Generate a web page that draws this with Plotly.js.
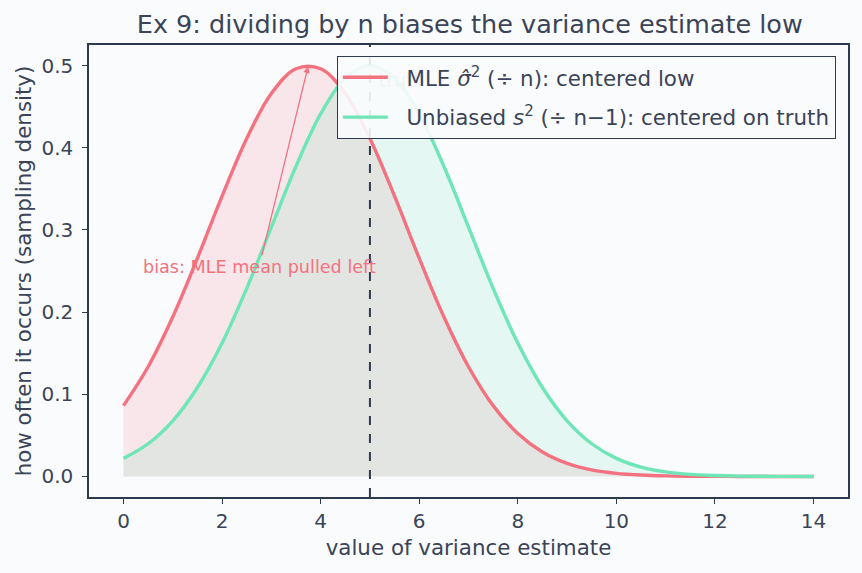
<!DOCTYPE html>
<html>
<head>
<meta charset="utf-8">
<script src="https://cdn.plot.ly/plotly-3.0.1.min.js"></script>
<style>html,body{margin:0;padding:0;background:#fafbfd;}#chart{width:862px;height:573px;}</style>
</head>
<body>
<div id="chart"></div>
<script>
const xValues = [0,0.5,1,1.5,2,2.5,3,3.5,4,4.5,5,5.5,6,6.5,7,7.5,8,8.5,9,9.5,10,10.5,11,11.5,12,12.5,13,13.5,14];
const mleDensity = [0.0862,0.1335,0.1943,0.2656,0.3410,0.4113,0.4660,0.4961,0.4961,0.4660,0.4113,0.3410,0.2656,0.1943,0.1335,0.0862,0.0523,0.0298,0.0160,0.0080,0.0038,0.0017,0.0007,0.0003,0.0001,0.0000,0.0000,0.0000,0.0000];
const unbiasedDensity = [0.0220,0.0398,0.0677,0.1082,0.1623,0.2289,0.3033,0.3774,0.4412,0.4846,0.5000,0.4846,0.4412,0.3774,0.3033,0.2289,0.1623,0.1082,0.0677,0.0398,0.0220,0.0114,0.0056,0.0025,0.0011,0.0004,0.0002,0.0001,0.0000];
const trueVariance = 5;
const mlePeak = [3.75, 0.5];
const biasLabelPos = [2.75, 0.255];
const seriesNames = ["\u00A0\u00A0MLE <i>σ̂</i><sup>2</sup> (÷ n): centered low", "\u00A0\u00A0Unbiased <i>s</i><sup>2</sup> (÷ n−1): centered on truth"];

const red = "#f47280", green = "#6ee6b7", ink = "#2e3a4e", txt = "#3b4457";

const traces = [
  {x: xValues, y: mleDensity, type: "scatter", mode: "lines", fill: "tozeroy",
   fillcolor: "rgba(244,114,128,0.15)", line: {color: "rgba(0,0,0,0)", width: 0, shape: "spline"}, showlegend: false, hoverinfo: "skip"},
  {x: xValues, y: unbiasedDensity, type: "scatter", mode: "lines", fill: "tozeroy",
   fillcolor: "rgba(110,230,183,0.15)", line: {color: "rgba(0,0,0,0)", width: 0, shape: "spline"}, showlegend: false, hoverinfo: "skip"},
  {x: [trueVariance + 0.18], y: [0.48], type: "scatter", mode: "text", text: ["truth"], textposition: "middle right",
   textfont: {family: "DejaVu Sans", size: 19, color: "#9aa0ab"}, showlegend: false, hoverinfo: "skip"},
  {x: xValues, y: mleDensity, type: "scatter", mode: "lines", legendgroup: "a",
   line: {color: red, width: 3.4, shape: "spline"}, name: seriesNames[0]},
  {x: xValues, y: unbiasedDensity, type: "scatter", mode: "lines", legendgroup: "b",
   line: {color: green, width: 3.4, shape: "spline"}, name: seriesNames[1]}
];

const layout = {
  width: 862, height: 573,
  paper_bgcolor: "#fafbfd", plot_bgcolor: "#fafbfd",
  margin: {l: 89, r: 14, t: 45, b: 76},
  font: {family: "DejaVu Sans", color: txt, size: 20},
  title: {text: "Ex 9: dividing by n biases the variance estimate low", font: {size: 25.5, color: txt}, x: 0.545, xanchor: "center", y: 0.958, yanchor: "middle"},
  xaxis: {range: [-0.7, 14.7], tickvals: [0,2,4,6,8,10,12,14], showgrid: false, zeroline: false,
    showline: true, mirror: true, linecolor: ink, linewidth: 1.5, ticks: "outside", ticklen: 5, tickcolor: ink,
    tickfont: {size: 20, color: txt}, title: {text: "value of variance estimate", font: {size: 21.4, color: txt}, standoff: 8}},
  yaxis: {range: [-0.025, 0.525], tickvals: [0,0.1,0.2,0.3,0.4,0.5], ticktext: ["0.0","0.1","0.2","0.3","0.4","0.5"], showgrid: false, zeroline: false,
    showline: true, mirror: true, linecolor: ink, linewidth: 1.5, ticks: "outside", ticklen: 5, tickcolor: ink, ticklabelstandoff: 5,
    tickfont: {size: 20, color: txt}, title: {text: "how often it occurs (sampling density)", font: {size: 21.4, color: txt}, standoff: 4}},
  shapes: [{type: "line", xref: "x", yref: "paper", x0: trueVariance, x1: trueVariance, y0: 0, y1: 1,
    line: {color: ink, width: 2, dash: "dash"}}],
  legend: {x: 0.984, y: 0.976, xanchor: "right", yanchor: "top", bgcolor: "rgba(250,251,253,0.9)",
    bordercolor: ink, borderwidth: 1, font: {size: 21.4, color: txt}, traceorder: "grouped", tracegroupgap: 9, itemwidth: 45},
  annotations: [{x: mlePeak[0], y: mlePeak[1], xref: "x", yref: "y", ax: biasLabelPos[0], ay: biasLabelPos[1], axref: "x", ayref: "y",
    text: "bias: MLE mean pulled left", showarrow: true, arrowhead: 2, arrowsize: 1, arrowwidth: 1.3, arrowcolor: red,
    font: {size: 17.6, color: red}, standoff: 1}]
};

Plotly.newPlot("chart", traces, layout, {displayModeBar: false});
</script>
</body>
</html>
